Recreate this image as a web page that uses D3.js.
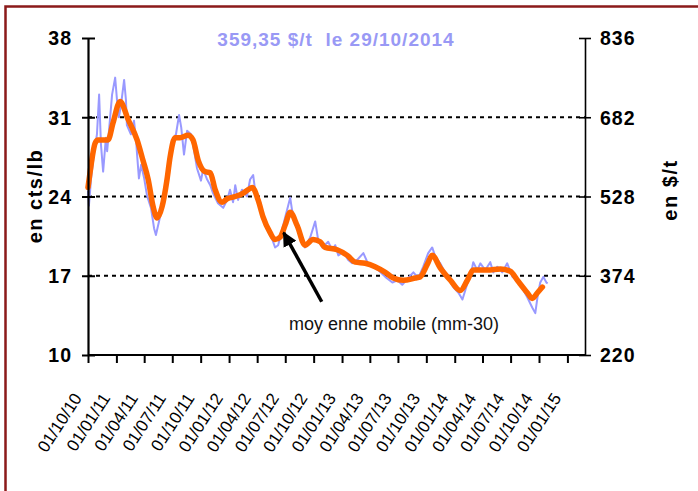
<!DOCTYPE html>
<html><head><meta charset="utf-8">
<script src="https://cdn.jsdelivr.net/npm/d3@7/dist/d3.min.js"></script>
<style>html,body{margin:0;padding:0;background:#fff;}svg{display:block;}</style>
</head><body>
<svg id="chart" width="698" height="491"></svg>
<script>
const blueDates = ["2010-10-01","2010-10-04","2010-10-11","2010-10-20","2010-10-30","2010-11-06","2010-11-12","2010-11-19","2010-11-28","2010-12-02","2010-12-08","2010-12-18","2010-12-28","2011-01-03","2011-01-09","2011-01-16","2011-01-26","2011-02-01","2011-02-04","2011-02-17","2011-02-27","2011-03-06","2011-03-09","2011-03-15","2011-03-22","2011-04-01","2011-04-10","2011-04-23","2011-05-03","2011-05-09","2011-05-19","2011-05-29","2011-06-11","2011-06-21","2011-06-30","2011-07-13","2011-07-23","2011-07-30","2011-08-08","2011-08-18","2011-08-31","2011-09-10","2011-09-19","2011-10-02","2011-10-09","2011-10-22","2011-11-01","2011-11-10","2011-11-26","2011-12-13","2011-12-26","2012-01-04","2012-01-14","2012-01-21","2012-01-30","2012-02-12","2012-02-28","2012-03-09","2012-03-19","2012-03-25","2012-04-11","2012-04-20","2012-05-03","2012-05-20","2012-05-29","2012-06-08","2012-06-21","2012-07-01","2012-07-17","2012-07-23","2012-08-02","2012-08-18","2012-09-03","2012-09-20","2012-10-06","2012-10-16","2012-10-29","2012-11-17","2012-11-30","2012-12-10","2012-12-20","2013-01-05","2013-01-21","2013-02-03","2013-02-19","2013-03-11","2013-03-24","2013-04-09","2013-04-28","2013-05-21","2013-06-13","2013-06-29","2013-07-15","2013-08-03","2013-08-20","2013-09-05","2013-09-21","2013-10-07","2013-10-20","2013-10-30","2013-11-15","2013-12-08","2013-12-27","2014-01-13","2014-01-26","2014-02-04","2014-02-14","2014-02-27","2014-03-02","2014-03-15","2014-03-25","2014-04-10","2014-04-26","2014-05-06","2014-05-19","2014-06-04","2014-06-20","2014-07-07","2014-07-23","2014-08-08","2014-08-24","2014-09-09","2014-09-19","2014-09-26","2014-10-05","2014-10-15","2014-10-25","2014-10-29"];
const blueValues = [24.5,23.2,25.6,27.7,29.5,33.0,28.6,26.2,29.2,28.0,29.8,33.0,34.5,32.5,31.0,32.1,34.3,32.5,30.3,29.5,30.7,28.9,27.7,25.6,26.8,25.6,24.1,23.0,21.2,20.6,21.8,23.0,25.4,27.4,28.9,29.5,31.2,30.1,27.7,29.8,29.5,28.0,26.5,25.4,26.4,25.5,25.0,24.3,23.4,23.0,23.7,24.6,23.5,25.0,23.7,24.6,24.0,25.5,25.9,24.6,23.5,22.2,21.1,20.2,19.5,19.7,21.1,22.2,23.9,22.8,22.0,20.4,19.5,20.4,21.8,20.1,19.5,20.0,19.3,19.7,18.8,19.1,18.4,18.1,18.4,19.0,18.2,17.8,17.5,16.9,16.4,16.6,16.2,16.8,17.3,16.8,17.8,19.0,19.5,18.7,18.1,16.9,16.0,15.5,14.9,15.7,16.6,17.8,18.2,17.5,18.1,17.5,18.2,17.3,17.8,17.3,18.1,16.9,16.6,15.9,15.1,14.2,13.7,15.1,16.4,16.9,16.4,16.33];

const maDates = ["2010-10-01","2010-10-07","2010-10-24","2010-11-02","2010-12-05","2010-12-21","2011-01-13","2011-02-08","2011-03-09","2011-03-28","2011-04-14","2011-04-30","2011-05-13","2011-05-29","2011-06-14","2011-06-24","2011-07-10","2011-07-26","2011-08-21","2011-09-06","2011-09-23","2011-10-15","2011-11-01","2011-11-17","2011-12-09","2011-12-26","2012-01-21","2012-02-16","2012-03-03","2012-03-16","2012-04-04","2012-04-20","2012-05-13","2012-05-29","2012-06-14","2012-07-01","2012-07-17","2012-08-09","2012-09-03","2012-09-29","2012-10-22","2012-11-07","2012-12-16","2013-01-18","2013-02-13","2013-03-17","2013-04-18","2013-05-21","2013-06-16","2013-07-18","2013-08-26","2013-09-11","2013-10-04","2013-10-20","2013-11-15","2013-12-18","2014-01-19","2014-02-11","2014-03-02","2014-04-17","2014-05-29","2014-06-30","2014-07-23","2014-08-24","2014-09-09","2014-09-26","2014-10-12"];
const maValues = [24.8,26.0,28.7,29.0,29.0,30.5,32.4,30.8,29.0,27.2,25.5,23.1,22.1,23.1,25.5,27.5,29.2,29.2,29.4,29.0,27.2,26.2,26.1,24.6,23.5,23.8,24.0,24.3,24.6,24.8,23.7,22.2,20.8,20.2,20.4,21.5,22.6,21.4,19.7,20.2,20.0,19.5,19.3,18.8,18.2,18.1,17.8,17.3,16.8,16.6,16.8,16.9,18.0,18.8,17.7,16.6,15.7,16.6,17.5,17.5,17.6,17.4,16.6,15.5,15.0,15.5,16.0];

const leftTicks = [10, 17, 24, 31, 38];
const rightTicks = [220, 374, 528, 682, 836];
const gridTicks = [17, 24, 31];
const xTickDates = ["2010-10-01","2011-01-01","2011-04-01","2011-07-01","2011-10-01","2012-01-01","2012-04-01","2012-07-01","2012-10-01","2013-01-01","2013-04-01","2013-07-01","2013-10-01","2014-01-01","2014-04-01","2014-07-01","2014-10-01","2015-01-01"];
const xDomain = ["2010-10-01","2015-02-27"];
const titleText = "359,35 $/t  le 29/10/2014";
const leftAxisTitle = "en cts/lb";
const rightAxisTitle = "en $/t";
const annotationText = "moy enne mobile (mm-30)";
const annotationPoint = ["2012-06-26", 20.8];

const parse = d3.timeParse("%Y-%m-%d");
const fmt = d3.timeFormat("%d/%m/%y");
const FONT = "'Liberation Sans', Arial, sans-serif";

const svg = d3.select("#chart");
const L = 88, R = 585, T = 38, B = 355;

const x = d3.scaleTime().domain(xDomain.map(parse)).range([L, R]);
const y = d3.scaleLinear().domain([10, 38]).range([B, T]);
const y2 = d3.scaleLinear().domain([220, 836]).range([B, T]);

// frame
svg.append("rect").attr("x", 5.5).attr("y", 6.5).attr("width", 760).attr("height", 560)
  .attr("fill", "none").attr("stroke", "#8b1a1a").attr("stroke-width", 2.5);

// gridlines
svg.append("g").selectAll("line").data(gridTicks).join("line")
  .attr("x1", L).attr("x2", R).attr("y1", d => y(d)).attr("y2", d => y(d))
  .attr("stroke", "#000").attr("stroke-width", 2).attr("stroke-dasharray", "4,4");

// series
const blue = blueDates.map((d, i) => [parse(d), blueValues[i]]);
const ma = maDates.map((d, i) => [parse(d), maValues[i]]);
const line = d3.line().x(d => x(d[0])).y(d => y(d[1]));

svg.append("path").datum(blue).attr("d", line)
  .attr("fill", "none").attr("stroke", "#9999ff").attr("stroke-width", 2).attr("stroke-linejoin", "round");
svg.append("path").datum(ma).attr("d", line.curve(d3.curveMonotoneX))
  .attr("fill", "none").attr("stroke", "#ff6600").attr("stroke-width", 5.5)
  .attr("stroke-linejoin", "round").attr("stroke-linecap", "round");

// left axis
const gl = svg.append("g").attr("transform", `translate(${L},0)`)
  .call(d3.axisLeft(y).tickValues(leftTicks).tickSize(0).tickPadding(0).tickFormat(d3.format("d")));
gl.select(".domain").attr("stroke", "#000").attr("stroke-width", 2.2);
gl.selectAll(".tick line").attr("x1", -6).attr("x2", 7).attr("stroke", "#000").attr("stroke-width", 2);
gl.selectAll(".tick text").attr("x", -16).attr("dy", "0.35em")
  .attr("font-family", FONT).attr("font-weight", "bold").attr("font-size", 19.5).attr("letter-spacing", 1).attr("fill", "#000");

// right axis
const gr = svg.append("g").attr("transform", `translate(${R},0)`)
  .call(d3.axisRight(y2).tickValues(rightTicks).tickSize(0).tickPadding(0).tickFormat(d3.format("d")));
gr.select(".domain").attr("stroke", "#000").attr("stroke-width", 1.6);
gr.selectAll(".tick line").attr("x1", -6).attr("x2", 6).attr("stroke", "#000").attr("stroke-width", 1.6);
gr.selectAll(".tick text").attr("x", 15).attr("dy", "0.35em")
  .attr("font-family", FONT).attr("font-weight", "bold").attr("font-size", 19.5).attr("letter-spacing", 1).attr("fill", "#000");

// bottom axis
const gb = svg.append("g").attr("transform", `translate(0,${B})`)
  .call(d3.axisBottom(x).tickValues(xTickDates.map(parse)).tickSize(8).tickFormat(fmt));
gb.select(".domain").attr("stroke", "#000").attr("stroke-width", 2.2).attr("d", `M${L},0H${R}`);
gb.selectAll(".tick line").attr("stroke", "#000").attr("stroke-width", 2);
gb.selectAll(".tick text")
  .attr("y", 0).attr("dy", 0)
  .attr("text-anchor", "end")
  .attr("transform", "translate(-6,43) rotate(-57)")
  .attr("font-family", FONT).attr("font-size", 17).attr("fill", "#000");

// title
svg.append("text").attr("x", 336).attr("y", 46).attr("text-anchor", "middle")
  .style("white-space", "pre").attr("xml:space", "preserve")
  .attr("font-family", FONT).attr("font-weight", "bold").attr("font-size", 19).attr("letter-spacing", 1)
  .attr("fill", "#9999f5").text(titleText);

// axis titles
svg.append("text").attr("transform", "translate(42,196) rotate(-90)").attr("text-anchor", "middle")
  .attr("font-family", FONT).attr("font-weight", "bold").attr("font-size", 20).attr("letter-spacing", 1.5)
  .attr("fill", "#000").text(leftAxisTitle);
svg.append("text").attr("transform", "translate(677,190) rotate(-90)").attr("text-anchor", "middle")
  .attr("font-family", FONT).attr("font-weight", "bold").attr("font-size", 20).attr("letter-spacing", 1.5)
  .attr("fill", "#000").text(rightAxisTitle);

// annotation
const tip = [x(parse(annotationPoint[0])), y(annotationPoint[1])];
const tail = [tip[0] + 38, tip[1] + 69];
svg.append("defs").append("marker").attr("id", "ah").attr("viewBox", "0 0 10 10")
  .attr("refX", 9).attr("refY", 5).attr("markerWidth", 4.2).attr("markerHeight", 4.2)
  .attr("markerUnits", "strokeWidth").attr("orient", "auto")
  .append("path").attr("d", "M0,0L10,5L0,10Z").attr("fill", "#000");
svg.append("line").attr("x1", tail[0]).attr("y1", tail[1]).attr("x2", tip[0]).attr("y2", tip[1])
  .attr("stroke", "#000").attr("stroke-width", 3.5).attr("marker-end", "url(#ah)");
svg.append("text").attr("x", 289).attr("y", 330)
  .attr("font-family", FONT).attr("font-size", 18).attr("fill", "#111").text(annotationText);
</script>
</body></html>
